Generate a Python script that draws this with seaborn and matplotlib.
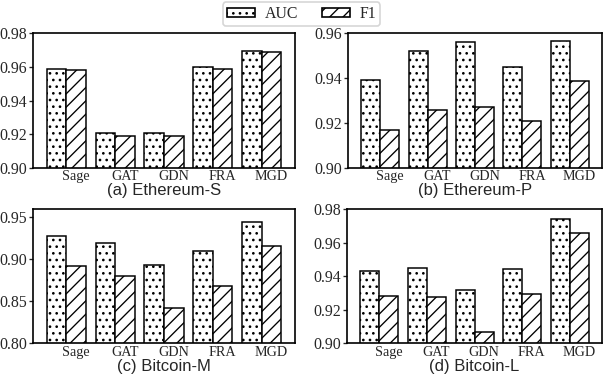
import numpy as np
import pandas as pd
import matplotlib
matplotlib.use("Agg")
import matplotlib.pyplot as plt
from matplotlib.patches import Patch
import seaborn as sns

sns.set_theme(style="white")
SERIF = ["Liberation Serif", "DejaVu Serif"]
SANS = ["Liberation Sans", "DejaVu Sans"]
plt.rcParams["font.family"] = SERIF
plt.rcParams["hatch.linewidth"] = 0.8

models = ["Sage", "GAT", "GDN", "FRA", "MGD"]
metrics = ["AUC", "F1"]

eth_s_auc = [0.959, 0.921, 0.921, 0.960, 0.9695]
eth_s_f1 = [0.958, 0.919, 0.9187, 0.959, 0.969]
eth_p_auc = [0.939, 0.952, 0.956, 0.945, 0.9566]
eth_p_f1 = [0.917, 0.926, 0.927, 0.921, 0.9387]
btc_m_auc = [0.928, 0.920, 0.8936, 0.910, 0.944]
btc_m_f1 = [0.892, 0.8805, 0.8414, 0.8675, 0.916]
btc_l_auc = [0.943, 0.945, 0.9315, 0.944, 0.974]
btc_l_f1 = [0.928, 0.9277, 0.9067, 0.929, 0.9657]

panels = [
    ("(a) Ethereum-S", eth_s_auc, eth_s_f1, (0.90, 0.98), [0.90, 0.92, 0.94, 0.96, 0.98]),
    ("(b) Ethereum-P", eth_p_auc, eth_p_f1, (0.90, 0.96), [0.90, 0.92, 0.94, 0.96]),
    ("(c) Bitcoin-M", btc_m_auc, btc_m_f1, (0.80, 0.96), [0.80, 0.85, 0.90, 0.95]),
    ("(d) Bitcoin-L", btc_l_auc, btc_l_f1, (0.90, 0.98), [0.90, 0.92, 0.94, 0.96, 0.98]),
]

# axes rectangles in figure fractions: left, bottom, width, height
rects = [
    (0.0547, 0.5614, 0.4345, 0.3520),
    (0.5771, 0.5614, 0.4213, 0.3520),
    (0.0547, 0.1044, 0.4345, 0.3499),
    (0.5755, 0.1044, 0.4229, 0.3499),
]

hatches = {"AUC": "...", "F1": "///"}

fig = plt.figure(figsize=(603 / 120, 383 / 120), dpi=120)

for (title, auc, f1, ylim, yticks), rect in zip(panels, rects):
    ax = fig.add_axes(rect)
    df = pd.DataFrame({
        "model": models * 2,
        "metric": ["AUC"] * len(models) + ["F1"] * len(models),
        "value": list(auc) + list(f1),
    })
    sns.barplot(data=df, x="model", y="value", hue="metric", order=models,
                hue_order=metrics, width=0.8, ax=ax, legend=False,
                errorbar=None)
    for metric, cont in zip(metrics, ax.containers):
        for bar in cont:
            bar.set_facecolor("white")
            bar.set_edgecolor("black")
            bar.set_linewidth(0.9)
            bar.set_hatch(hatches[metric])
    ax.set_xlim(-0.68, len(models) - 1 + 0.68)
    ax.set_ylim(*ylim)
    ax.set_yticks(yticks)
    ax.set_yticklabels([f"{t:.2f}" for t in yticks], fontsize=9.5, family=SERIF)
    ax.set_xticks(np.arange(len(models)) + 0.2)
    ax.set_xticklabels(models, fontsize=8.5, family=SERIF)
    ax.tick_params(axis="x", length=0, pad=1.5)
    ax.tick_params(axis="y", length=2.5, width=0.8, pad=1, direction="out", left=True)
    ax.set_xlabel(title, fontsize=10, family=SANS, labelpad=0)
    ax.set_ylabel("")
    for s in ax.spines.values():
        s.set_visible(True)
        s.set_color("black")
        s.set_linewidth(1.0)

handles = [Patch(facecolor="white", edgecolor="black", hatch=hatches[m], label=m)
           for m in metrics]
fig.legend(handles=handles, loc="upper center", bbox_to_anchor=(0.5, 1.0), ncol=2,
           frameon=True, prop={"family": SERIF, "size": 9.5}, handlelength=1.8,
           handleheight=0.5, handletextpad=0.6, columnspacing=1.5, borderpad=0.25,
           borderaxespad=0.15, edgecolor="#cccccc", fancybox=True)

fig.savefig("out.png", dpi=120)
